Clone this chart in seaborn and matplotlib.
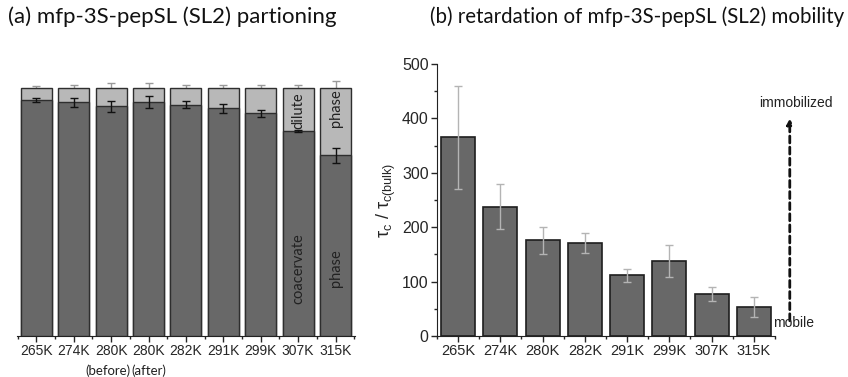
import numpy as np
import pandas as pd
import matplotlib
matplotlib.use("Agg")
import matplotlib.pyplot as plt
import seaborn as sns

# (a) partitioning: coacervate fraction (%) per temperature
temps_a = ["265K", "274K", "280K", "280K", "282K", "291K", "299K", "307K", "315K"]
keys_a = ["265K", "274K", "280K_before", "280K_after", "282K", "291K", "299K", "307K", "315K"]
coacervate = [95.2, 94.2, 92.7, 94.5, 93.3, 91.8, 89.8, 82.7, 72.9]
coacervate_err = [0.9, 1.8, 2.2, 2.4, 1.3, 1.7, 1.3, 0.5, 3.0]
total = [100] * 9
total_err = [1.0, 1.3, 2.0, 2.0, 1.3, 1.3, 1.3, 1.3, 2.7]

# (b) retardation of mobility
temps_b = ["265K", "274K", "280K", "282K", "291K", "299K", "307K", "315K"]
tau_ratio = [365, 238, 176, 171, 112, 138, 77, 53]
tau_err = [95, 42, 25, 19, 12, 30, 13, 19]

arial = "Liberation Sans"

sns.set_style("ticks")
plt.rcParams["font.family"] = [arial, "DejaVu Sans"]
plt.rcParams["mathtext.fontset"] = "custom"
plt.rcParams["mathtext.rm"] = arial
plt.rcParams["mathtext.it"] = arial + ":italic"

dark = "#686868"
light = "#b8b8b8"
edge = "#2e2e2e"

fig = plt.figure(figsize=(8.48, 3.77), dpi=100)
ax1 = fig.add_axes([0.020, 0.1088, 0.3986, 0.6907])
ax2 = fig.add_axes([0.5153, 0.1088, 0.3986, 0.7215])

# ---- panel (a) ----
df_a = pd.DataFrame({"key": keys_a, "total": total, "coacervate": coacervate})
sns.barplot(data=df_a, x="key", y="total", order=keys_a, color=light, saturation=1,
            width=0.83, edgecolor=edge, linewidth=1, errorbar=None, ax=ax1, zorder=2)
sns.barplot(data=df_a, x="key", y="coacervate", order=keys_a, color=dark, saturation=1,
            width=0.83, edgecolor=edge, linewidth=1, errorbar=None, ax=ax1, zorder=3)
xa = np.arange(len(keys_a))
ax1.errorbar(xa, total, yerr=total_err, fmt="none", ecolor="#9a9a9a", elinewidth=1,
             capsize=3, capthick=1, zorder=1, clip_on=False)
ax1.errorbar(xa, coacervate, yerr=coacervate_err, fmt="none", ecolor="#111111",
             elinewidth=1, capsize=3, capthick=1, zorder=4)

ax1.set_xlim(-0.52, 8.52)
ax1.set_ylim(0, 105)
ax1.set_xticks(xa)
ax1.set_xticklabels(temps_a, fontsize=10, family=arial)
ax1.set_xticks(np.arange(-0.5, 9, 1), minor=True)
ax1.tick_params(axis="x", which="major", length=4, width=1, direction="out", pad=2)
ax1.tick_params(axis="x", which="minor", length=2.5, width=1, direction="out")
ax1.set_yticks([])
ax1.set_xlabel("")
ax1.set_ylabel("")
for s in ["top", "right", "left"]:
    ax1.spines[s].set_visible(False)
ax1.spines["bottom"].set_color("#222222")

txt_kw = dict(rotation=90, ha="center", va="center", fontsize=10.5,
              family=["Lato", "DejaVu Sans"], color="#222222", zorder=5)
ax1.text(7, 90.7, "dilute", **txt_kw)
ax1.text(8, 91.7, "phase", **txt_kw)
ax1.text(7, 27, "coacervate", **txt_kw)
ax1.text(8, 27.4, "phase", **txt_kw)
ax1.text(1.9, -0.135, "(before)", transform=ax1.get_xaxis_transform(), ha="center",
         va="center", fontsize=9.5, family=["Lato", "DejaVu Sans"], color="#222222")
ax1.text(3.0, -0.135, "(after)", transform=ax1.get_xaxis_transform(), ha="center",
         va="center", fontsize=9.5, family=["Lato", "DejaVu Sans"], color="#222222")

# ---- panel (b) ----
df_b = pd.DataFrame({"temp": temps_b, "ratio": tau_ratio})
sns.barplot(data=df_b, x="temp", y="ratio", order=temps_b, color=dark, saturation=1,
            width=0.8, edgecolor="#1e1e1e", linewidth=1.2, errorbar=None, ax=ax2)
xb = np.arange(len(temps_b))
ax2.errorbar(xb, tau_ratio, yerr=tau_err, fmt="none", ecolor="#b4b4b4", elinewidth=1,
             capsize=3, capthick=1, zorder=4)
ax2.set_xlim(-0.49, 7.45)
ax2.set_ylim(0, 500)
ax2.set_yticks(np.arange(0, 501, 100))
ax2.set_yticks(np.arange(50, 500, 100), minor=True)
ax2.set_xticks(xb)
ax2.set_xticklabels(temps_b, fontsize=10.5, family=arial)
ax2.set_yticklabels([str(v) for v in range(0, 501, 100)], fontsize=11.5, family=arial)
ax2.set_xticks(np.arange(-0.5, 7.6, 1), minor=True)
ax2.tick_params(axis="both", which="major", length=4, width=1, direction="out", pad=2)
ax2.tick_params(axis="both", which="minor", length=2.5, width=1, direction="out")
ax2.set_xlabel("")
ax2.set_ylabel(r"$\mathrm{\tau_c}$ / $\mathrm{\tau_{c(bulk)}}$", fontsize=13, labelpad=3)
for s in ["top", "right"]:
    ax2.spines[s].set_visible(False)
for s in ["left", "bottom"]:
    ax2.spines[s].set_color("#222222")

ax2.annotate("", xy=(7.85, 400), xytext=(7.85, 28), annotation_clip=False,
             arrowprops=dict(arrowstyle="-|>", linestyle=(0, (2.5, 1.5)), lw=2,
                             color="#111111", mutation_scale=8, shrinkA=0, shrinkB=0))
ax2.text(7.99, 428, "immobilized", ha="center", va="center", fontsize=10,
         family=arial, color="#222222", clip_on=False)
ax2.text(7.45, 24, "mobile", ha="left", va="center", fontsize=10,
         family=arial, color="#222222", clip_on=False)

# titles
fig.text(0.009, 0.955, "(a) mfp-3S-pepSL (SL2) partioning", fontsize=16,
         family=["Lato", "DejaVu Sans"], ha="left", va="center", color="#111111")
fig.text(0.507, 0.955, "(b) retardation of mfp-3S-pepSL (SL2) mobility", fontsize=14.8,
         family=["Lato", "DejaVu Sans"], ha="left", va="center", color="#111111")

fig.savefig("out.png", dpi=100)
